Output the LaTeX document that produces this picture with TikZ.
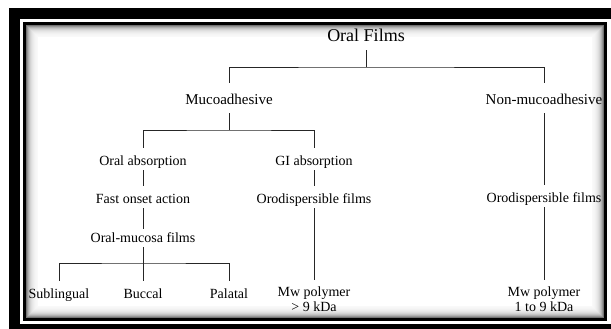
\documentclass[tikz,border=0pt]{standalone}
\usepackage{fontspec}
\setmainfont{Liberation Serif}
\begin{document}
\begin{tikzpicture}[x=1pt,y=-1pt,
    title/.style={font=\fontsize{18}{20}\selectfont, inner sep=0pt, text depth=8pt, anchor=base},
    branch/.style={font=\fontsize{15}{17}\selectfont, inner sep=0pt, text height=21pt, text depth=9pt, anchor=base},
    item/.style={font=\fontsize{14}{15}\selectfont, inner sep=0pt, text height=17pt, text depth=5pt, anchor=base},
    mw/.style={font=\fontsize{14}{15}\selectfont, inner xsep=0pt, inner ysep=7pt, align=center, anchor=north},
    link/.style={draw=black!85, line width=0.8pt}]
        \useasboundingbox (0,0) rectangle (611,329);
        \fill[white] (0,0) rectangle (611,329);
        \fill[black] (9,8) rectangle (611,329);
        \fill[white] (20,19) rectangle (611,324);
        \fill[black] (23,22) rectangle (607,321);
        \fill[white] (26,25) rectangle (604,318);
        \foreach \i [evaluate=\i as \g using 55*0.75^\i] in {0,...,11}
            \draw[line width=1pt, black!\g] ({26.5+\i},{25.5+\i}) rectangle ({603.5-\i},{317.5-\i});
        \node[title] (films) at (366,42) {Oral Films};
        \node[branch] (muco) at (229,104) {Mucoadhesive};
        \node[branch] (nonmuco) at (544,104) {Non-mucoadhesive};
        \node[item] (oabs) at (143,165) {Oral absorption};
        \node[item] (giabs) at (314,165) {GI absorption};
        \node[item] (onset) at (143,203) {Fast onset action};
        \node[item] (odf) at (314,203) {Orodispersible films};
        \node[item] (odfn) at (544,202) {Orodispersible films};
        \node[item, text height=13pt] (omf) at (143,242) {Oral-mucosa films};
        \node[item] (subl) at (59,298) {Sublingual};
        \node[item] (bucc) at (143,298) {Buccal};
        \node[item] (pala) at (229,298) {Palatal};
        \node[mw] (mwgi) at (314,280) {Mw polymer\\> 9 kDa};
        \node[mw] (mwn) at (544,280) {Mw polymer\\1 to 9 kDa};
        \coordinate (j0) at (366,67);
        \coordinate (j1) at (229,130);
        \coordinate (j2) at (143,263);
        \draw[link] (films.south) -- (j0);
        \draw[link] (muco.north) |- (j0) -| (nonmuco.north);
        \draw[link] (muco.south) -- (j1);
        \draw[link] (oabs.north) |- (j1) -| (giabs.north);
        \draw[link] (oabs.south) -- (onset.north);
        \draw[link] (giabs.south) -- (odf.north);
        \draw[link] (onset.south) -- (omf.north);
        \draw[link] (omf.south) -- (bucc.north);
        \draw[link] (subl.north) |- (j2) -| (pala.north);
        \draw[link] (odf.south) -- (mwgi.north);
        \draw[link] (nonmuco.south) -- (odfn.north);
        \draw[link] (odfn.south) -- (mwn.north);
    \end{tikzpicture}
\end{document}
